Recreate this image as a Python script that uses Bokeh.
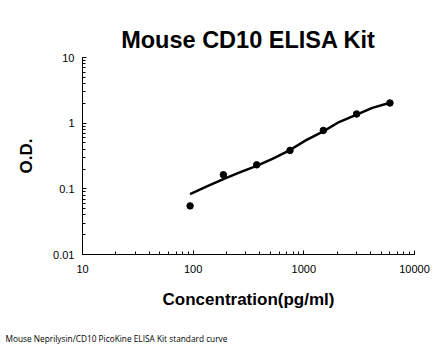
from bokeh.plotting import figure
from bokeh.models import Title, CustomJSTickFormatter
from bokeh.embed import file_html
from bokeh.resources import INLINE

# Standard points
conc = [93.75, 187.5, 375, 750, 1500, 3000, 6000]
od = [0.055, 0.164, 0.232, 0.385, 0.776, 1.38, 2.03]

# Fitted curve
curve_x = [93.75, 130, 187.5, 260, 375, 520, 750, 1040, 1500, 2080, 3000, 4160, 6000]
curve_y = [0.083, 0.107, 0.141, 0.177, 0.224, 0.287, 0.39, 0.547, 0.75, 1.04, 1.35, 1.71, 2.05]

title_text = "Mouse CD10 ELISA Kit"
x_label = "Concentration(pg/ml)"
y_label = "O.D."
footnote = "Mouse Neprilysin/CD10 PicoKine ELISA Kit standard curve"

FONT = "Liberation Sans"

p = figure(frame_width=332, frame_height=197, x_axis_type="log", y_axis_type="log",
           x_range=(10, 10000), y_range=(0.01, 10),
           output_backend="svg", toolbar_location=None,
           min_border_left=82, min_border_right=32, min_border_top=57, min_border_bottom=102)

p.line(curve_x, curve_y, line_color="black", line_width=2.5)
p.scatter(conc, od, size=6.5, color="black")

p.title.text = title_text
p.title.align = "center"
p.title.text_font = FONT
p.title.text_font_size = "23.5px"
p.title.text_font_style = "bold"
p.title.text_color = "black"

# spacer between axis label and footnote
p.add_layout(Title(text=" ", text_font_size="11px", standoff=0), "below")
p.add_layout(Title(text=footnote, align="left", text_font="Open Sans", text_font_size="8.3px",
                   text_font_style="normal", text_color="black", offset=-77), "below")

fmt = CustomJSTickFormatter(code="return tick.toString();")
for ax in (p.xaxis[0], p.yaxis[0]):
    ax.formatter = fmt
    ax.major_tick_in = 4
    ax.major_tick_out = 0
    ax.minor_tick_in = 3
    ax.minor_tick_out = 0
    ax.axis_line_color = "black"
    ax.major_tick_line_color = "black"
    ax.minor_tick_line_color = "black"
    ax.major_label_text_font = FONT
    ax.major_label_text_font_size = "11px"
    ax.major_label_text_color = "black"
    ax.axis_label_text_font = FONT
    ax.axis_label_text_font_size = "17px"
    ax.axis_label_text_font_style = "bold"
    ax.axis_label_text_color = "black"

p.xaxis.axis_label = x_label
p.yaxis.axis_label = y_label
p.xaxis.major_label_standoff = 10
p.yaxis.major_label_standoff = 8
p.xaxis.axis_label_standoff = 14
p.yaxis.axis_label_standoff = 14

p.xgrid.visible = False
p.ygrid.visible = False
p.outline_line_color = None
p.background_fill_color = "white"
p.border_fill_color = "white"

open("out.html", "w").write(file_html(p, INLINE))
